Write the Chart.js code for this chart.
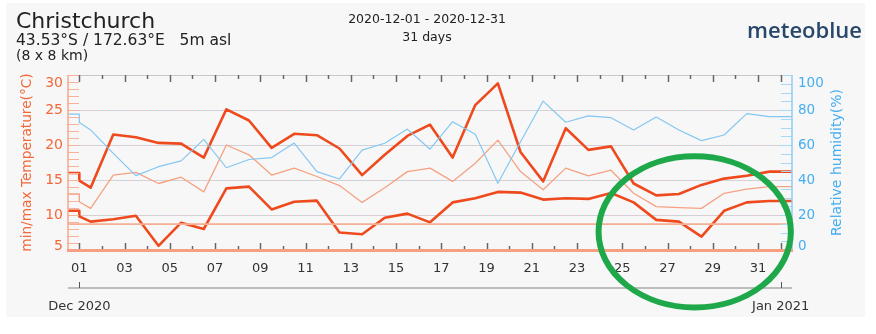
<!DOCTYPE html>
<html><head><meta charset="utf-8">
<script src="https://cdn.jsdelivr.net/npm/chart.js@4.4.1/dist/chart.umd.min.js"></script>
<style>html,body{margin:0;padding:0;background:#fff;overflow:hidden}canvas{display:block}</style>
</head><body>
<canvas id="c" width="876" height="334"></canvas>
<script>
// ---- data ----
const days = [1,2,3,4,5,6,7,8,9,10,11,12,13,14,15,16,17,18,19,20,21,22,23,24,25,26,27,28,29,30,31];
const dayTickLabels = ['01','03','05','07','09','11','13','15','17','19','21','23','25','27','29','31'];
const dayTickValues = [1,3,5,7,9,11,13,15,17,19,21,23,25,27,29,31];
const monthLabels = ['Dec 2020','Jan 2021'];
const monthStarts = [1, 32];
const tempMax = [13.9,21.5,21.1,20.3,20.2,18.2,25.1,23.5,19.6,21.6,21.4,19.5,15.7,18.6,21.3,22.9,18.2,25.7,28.8,19.0,14.8,22.4,19.3,19.8,14.5,12.8,13.0,14.3,15.2,15.6,16.2];
const tempMean = [10.95,15.7,16.1,14.5,15.4,13.3,20.0,18.6,15.7,16.7,15.5,14.2,11.8,13.9,16.2,16.7,14.8,17.4,20.7,16.2,13.6,16.7,15.6,16.4,13.1,11.2,11.05,10.95,13.1,13.7,14.05];
const tempMin = [9.05,9.4,9.9,5.6,8.9,8.0,13.8,14.05,10.8,11.9,12.05,7.5,7.24,9.6,10.2,8.95,11.8,12.4,13.3,13.2,12.2,12.4,12.3,13.15,11.8,9.3,9.05,6.9,10.6,11.8,12.0];
const humidity = [68.6,55.2,42.5,47.6,50.9,63.2,47.0,51.7,52.8,61.1,44.8,40.6,57.1,61.0,69.1,57.6,73.3,66.1,38.1,61.9,85.1,73.0,76.6,75.6,68.6,76.0,68.6,62.5,65.7,77.9,76.2];
// values at the very start of the period (previous day / midnight)
const tempMaxLead = [16.0, 14.9];
const tempMeanLead = [13.0, 11.9];
const tempMinLead = [10.6, 9.8];
const humidityLead = [77.7, 72.8];
const referenceTemp = 8.7;
const tempTicks = [5,10,15,20,25,30];
const humTicks = [0,20,40,60,80,100];
const highlight = {day: 28.2, temp: 7.6, halfDays: 4.25, halfDegrees: 10.8};

// ---- build series ----
function series(lead, vals){
  const pts = [{x:0.5,y:lead[0]},{x:1,y:lead[0]},{x:1,y:lead[1]}];
  vals.forEach((v,i)=>pts.push({x:days[i]+0.5,y:v}));
  pts.push({x:32.5,y:vals[vals.length-1]});
  return pts;
}
const FONT = '"DejaVu Sans", Verdana, sans-serif';
const ORANGE = '#ee4a1d', SALMON = '#f5a283', BLUE = '#84c7f1';
const LBL_OR = '#f2683a', LBL_BL = '#45aef1';

const deco = {
  id:'deco',
  beforeDraw(chart){
    const c = chart.ctx;
    c.save();
    c.fillStyle='#ffffff'; c.fillRect(0,0,chart.width,chart.height);
    c.fillStyle='#f7f7f7'; c.fillRect(6,3,859,314);
    c.restore();
  },
  beforeDatasetsDraw(chart){
    const {ctx:c, chartArea:a, scales} = chart;
    c.save();
    c.lineWidth=1;
    c.setLineDash([3,3]);
    tempTicks.slice(1,-1).forEach(t=>{
      const py=Math.round(scales.y.getPixelForValue(t))+0.5;
      c.strokeStyle='#f7c6b6'; c.beginPath(); c.moveTo(a.left,py); c.lineTo(a.right,py); c.stroke();
    });
    c.lineDashOffset=3;
    humTicks.slice(1,-1).forEach(h=>{
      const py=Math.round(scales.yH.getPixelForValue(h))+0.5;
      c.strokeStyle='#b2dbf5'; c.beginPath(); c.moveTo(a.left,py); c.lineTo(a.right,py); c.stroke();
    });
    c.setLineDash([]);
    // top border
    c.strokeStyle='#c8c8c8'; c.beginPath(); c.moveTo(a.left,a.top+0.5); c.lineTo(a.right,a.top+0.5); c.stroke();
    c.restore();
  },
  afterDatasetsDraw(chart){
    const {ctx:c, chartArea:a, scales} = chart;
    const xs=scales.x, ys=scales.y, yh=scales.yH;
    c.save();
    // minor ticks left (temperature)
    c.strokeStyle='#f6b29b'; c.lineWidth=1;
    for(let t=5;t<=30;t++){
      const py=Math.round(ys.getPixelForValue(t))+0.5;
      c.beginPath(); c.moveTo(a.left,py); c.lineTo(a.left+11,py); c.stroke();
    }
    c.strokeStyle='#a9d7f4';
    for(let h=0;h<=100;h+=5){
      const py=Math.round(yh.getPixelForValue(h))+0.5;
      c.beginPath(); c.moveTo(a.right-11,py); c.lineTo(a.right,py); c.stroke();
    }
    // axis lines
    c.lineWidth=1.5;
    c.strokeStyle='#f6a88c'; c.beginPath(); c.moveTo(a.left,a.top); c.lineTo(a.left,a.bottom); c.stroke();
    c.strokeStyle='#8fcdf3'; c.beginPath(); c.moveTo(a.right,a.top); c.lineTo(a.right,a.bottom); c.stroke();
    // day ticks top & bottom
    c.strokeStyle='#666'; c.lineWidth=1.5;
    for(let d=1; d<=32; d++){
      const px=Math.round(xs.getPixelForValue(d))+0.5;
      const len=(d%2===1||d===32)?7:4;
      c.beginPath(); c.moveTo(px,a.top); c.lineTo(px,a.top+len); c.stroke();
      c.beginPath(); c.moveTo(px,a.bottom); c.lineTo(px,a.bottom-len); c.stroke();
    }
    // bottom thick axis
    c.strokeStyle='#f5a080'; c.lineWidth=3;
    c.beginPath(); c.moveTo(a.left-1,a.bottom+0.5); c.lineTo(a.right+1,a.bottom+0.5); c.stroke();
    // y tick labels
    c.font='14px '+FONT; c.fillStyle=LBL_OR; c.textAlign='right'; c.textBaseline='middle';
    tempTicks.forEach(t=>{
      const py=Math.min(Math.max(ys.getPixelForValue(t),a.top+8),a.bottom-4);
      c.fillText(String(t),a.left-5,py);
    });
    c.font='13.5px '+FONT; c.fillStyle=LBL_BL; c.textAlign='left';
    humTicks.forEach(h=>{
      const py=Math.min(Math.max(yh.getPixelForValue(h),a.top+8),a.bottom-4);
      c.fillText(String(h),a.right+6,py);
    });
    // axis titles
    c.save(); c.translate(27,(a.top+a.bottom)/2); c.rotate(-Math.PI/2);
    c.font='13.7px '+FONT; c.fillStyle=LBL_OR; c.textAlign='center'; c.textBaseline='middle';
    c.fillText('min/max Temperature(°C)',0,0); c.restore();
    c.save(); c.translate(837,(a.top+a.bottom)/2); c.rotate(-Math.PI/2);
    c.font='14px '+FONT; c.fillStyle=LBL_BL; c.textAlign='center'; c.textBaseline='middle';
    c.fillText('Relative humidity(%)',0,0); c.restore();
    // x labels
    c.font='13px '+FONT; c.fillStyle='#333'; c.textAlign='center'; c.textBaseline='middle';
    dayTickValues.forEach((d,i)=>c.fillText(dayTickLabels[i],xs.getPixelForValue(d),269));
    // month timeline
    c.strokeStyle='#bdbdbd'; c.lineWidth=2;
    c.beginPath(); c.moveTo(a.left,288); c.lineTo(a.right,288); c.stroke();
    c.strokeStyle='#555'; c.lineWidth=1;
    monthStarts.forEach((d,i)=>{
      const px=Math.round(xs.getPixelForValue(d))+0.5;
      c.beginPath(); c.moveTo(px,282); c.lineTo(px,288); c.stroke();
      c.fillText(monthLabels[i],xs.getPixelForValue(d),307);
    });
    // header texts
    c.textAlign='left'; c.textBaseline='alphabetic'; c.fillStyle='#222';
    c.font='22px '+FONT; c.fillText('Christchurch',16,28);
    c.font='15.5px '+FONT; c.fillText('43.53°S / 172.63°E   5m asl',16,45);
    c.font='14px '+FONT; c.fillText('(8 x 8 km)',16,60);
    c.textAlign='center'; c.font='12.5px '+FONT;
    c.fillText('2020-12-01 - 2020-12-31',427,23);
    c.fillText('31 days',427,41);
    c.textAlign='right'; c.fillStyle='#28476a'; c.font='600 22px "Open Sans", '+FONT;
    c.fillText('meteoblue',862,38);
    // highlight ellipse
    const cx=xs.getPixelForValue(highlight.day), cy=ys.getPixelForValue(highlight.temp);
    const rx=xs.getPixelForValue(highlight.day+highlight.halfDays)-cx;
    const ry=ys.getPixelForValue(highlight.temp)-ys.getPixelForValue(highlight.temp+highlight.halfDegrees);
    c.strokeStyle='#1fa84a'; c.lineWidth=6;
    c.beginPath(); c.ellipse(cx,cy,rx,ry,0,0,Math.PI*2); c.stroke();
    c.restore();
  }
};

new Chart(document.getElementById('c'), {
  type:'line',
  data:{datasets:[
    {label:'ref', data:[{x:0.5,y:referenceTemp},{x:32.5,y:referenceTemp}], borderColor:'#f6ae94', borderWidth:1.6, yAxisID:'y'},
    {label:'Relative humidity', data:series(humidityLead,humidity), borderColor:BLUE, borderWidth:1.2, yAxisID:'yH'},
    {label:'mean', data:series(tempMeanLead,tempMean), borderColor:SALMON, borderWidth:1.3, yAxisID:'y'},
    {label:'min', data:series(tempMinLead,tempMin), borderColor:ORANGE, borderWidth:2.6, yAxisID:'y'},
    {label:'max', data:series(tempMaxLead,tempMax), borderColor:ORANGE, borderWidth:2.6, yAxisID:'y'}
  ]},
  options:{
    responsive:false, animation:false,
    layout:{padding:{left:68,right:84,top:75,bottom:84}},
    elements:{point:{radius:0,hoverRadius:0},line:{tension:0,borderJoinStyle:'round'}},
    plugins:{legend:{display:false},tooltip:{enabled:false}},
    scales:{
      x:{type:'linear',min:0.5,max:32.5,display:false},
      y:{type:'linear',min:5,max:30,display:false},
      yH:{type:'linear',min:0,max:100,display:false,position:'right'}
    }
  },
  plugins:[deco]
});
</script>
</body></html>
